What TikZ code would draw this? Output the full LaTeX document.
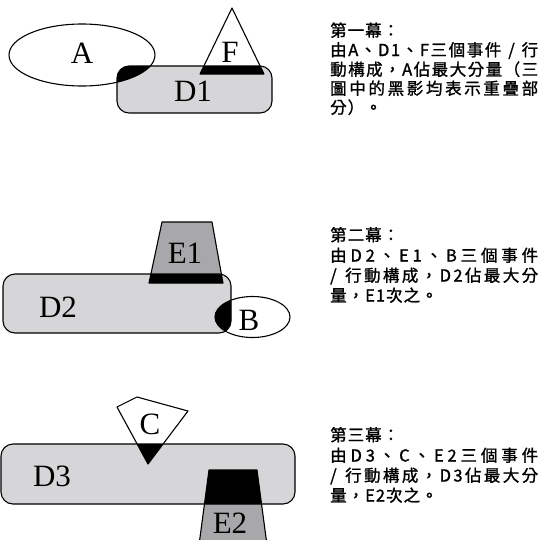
\documentclass[tikz,border=0pt]{standalone}
\usepackage{fontspec}
\newfontfamily\labfont{Liberation Serif}
\newfontfamily\cjk{Noto Sans CJK TC}[FakeBold=1.3]
\definecolor{lightgray}{RGB}{214,214,216}
\definecolor{midgray}{RGB}{168,168,170}

% spread the characters of one line evenly over the full column width,
% or set them with a little fixed tracking
\def\spreadloop#1{\ifx\relax#1\else#1\hfil\expandafter\spreadloop\fi}
\newcommand\spreadline[1]{\hbox to 208pt{\spreadloop#1\relax\unskip}}
\def\trackloop#1{\ifx\relax#1\else#1\hskip1pt\expandafter\trackloop\fi}
\newcommand\trackline[1]{\hbox{\trackloop#1\relax\unskip}}

\tikzset{
  outline/.style={draw=black, line width=1.1pt, line join=round},
  dbox/.style={rounded corners=12pt},
  lab/.style={font=\labfont\fontsize{31}{31}\selectfont, inner sep=0pt},
  txt/.style={font=\cjk\fontsize{16.5}{16.5}\selectfont, inner sep=0pt, anchor=base west},
}

\begin{document}
\begin{tikzpicture}[x=1pt,y=-1pt]
\useasboundingbox (0,0) rectangle (544,539);
\clip (0,0) rectangle (544,539);

% ---------- Act 1: A, D1, F ----------
\fill[lightgray, dbox] (117,66) rectangle (272,113);
\begin{scope}
  \clip[dbox] (117,66) rectangle (272,113);
  \fill[black] (82,55) ellipse [x radius=73pt, y radius=31pt];
  \fill[black] (232,8) -- (264,74) -- (200,74) -- cycle;
\end{scope}
\draw[outline, dbox] (117,66) rectangle (272,113);
\draw[outline] (82,55) ellipse [x radius=73pt, y radius=31pt];
\draw[outline] (232,8) -- (264,74) -- (200,74) -- cycle;
\node[lab] (labA) at (82,53) {A};
\node[lab] (labF) at (230,52) {F};
\node[lab] (labD1) at (193,91) {D1};

% ---------- Act 2: D2, E1, B ----------
\fill[lightgray, dbox] (3,274) rectangle (231,333);
\fill[midgray] (162,222) -- (212,222) -- (223,283) -- (149,283) -- cycle;
\begin{scope}
  \clip[dbox] (3,274) rectangle (231,333);
  \fill[black] (162,222) -- (212,222) -- (223,283) -- (149,283) -- cycle;
  \fill[black] (252.5,317) ellipse [x radius=37.5pt, y radius=20.5pt];
\end{scope}
\draw[outline, dbox] (3,274) rectangle (231,333);
\draw[outline] (162,222) -- (212,222) -- (223,283) -- (149,283) -- cycle;
\draw[outline] (252.5,317) ellipse [x radius=37.5pt, y radius=20.5pt];
\node[lab] (labE1) at (185,253) {E1};
\node[lab] (labD2) at (58,307) {D2};
\node[lab] (labB) at (249,320) {B};

% ---------- Act 3: D3, C, E2 ----------
\fill[lightgray, dbox] (1,444) rectangle (295,504);
\fill[midgray] (209,470) -- (257,470) -- (267,545) -- (199,545) -- cycle;
\begin{scope}
  \clip[dbox] (1,444) rectangle (295,504);
  \fill[black] (117,407) -- (137,397) -- (188,411) -- (148,464) -- cycle;
  \fill[black] (209,470) -- (257,470) -- (267,545) -- (199,545) -- cycle;
\end{scope}
\draw[outline, dbox] (1,444) rectangle (295,504);
\draw[outline] (117,407) -- (137,397) -- (188,411) -- (148,464) -- cycle;
\draw[outline] (199,545) -- (209,470) -- (257,470) -- (267,545);
\node[lab] (labC) at (150,424) {C};
\node[lab] (labD3) at (52,476) {D3};
\node[lab] (labE2) at (230,523) {E2};

% ---------- captions ----------
\node[txt] (t11) at (330,36.5) {\trackline{第一幕：}};
\node[txt] (t12) at (330,56) {\spreadline{由A、D1、F三個事件\ /\ 行}};
\node[txt] (t13) at (330,75.5) {\spreadline{動構成，A佔最大分量（三}};
\node[txt] (t14) at (330,94.5) {\spreadline{圖中的黑影均表示重疊部}};
\node[txt] (t15) at (330,113.5) {\trackline{分）。}};

\node[txt] (t21) at (330,241) {\trackline{第二幕：}};
\node[txt] (t22) at (330,261.5) {\spreadline{由D2、E1、B三個事件}};
\node[txt] (t23) at (330,281.5) {\spreadline{/\ 行動構成，D2佔最大分}};
\node[txt] (t24) at (330,301.5) {\trackline{量，E1次之。}};

\node[txt] (t31) at (330,441) {\trackline{第三幕：}};
\node[txt] (t32) at (330,461.5) {\spreadline{由D3、C、E2三個事件}};
\node[txt] (t33) at (330,481.5) {\spreadline{/\ 行動構成，D3佔最大分}};
\node[txt] (t34) at (330,501.5) {\trackline{量，E2次之。}};
\end{tikzpicture}
\end{document}
